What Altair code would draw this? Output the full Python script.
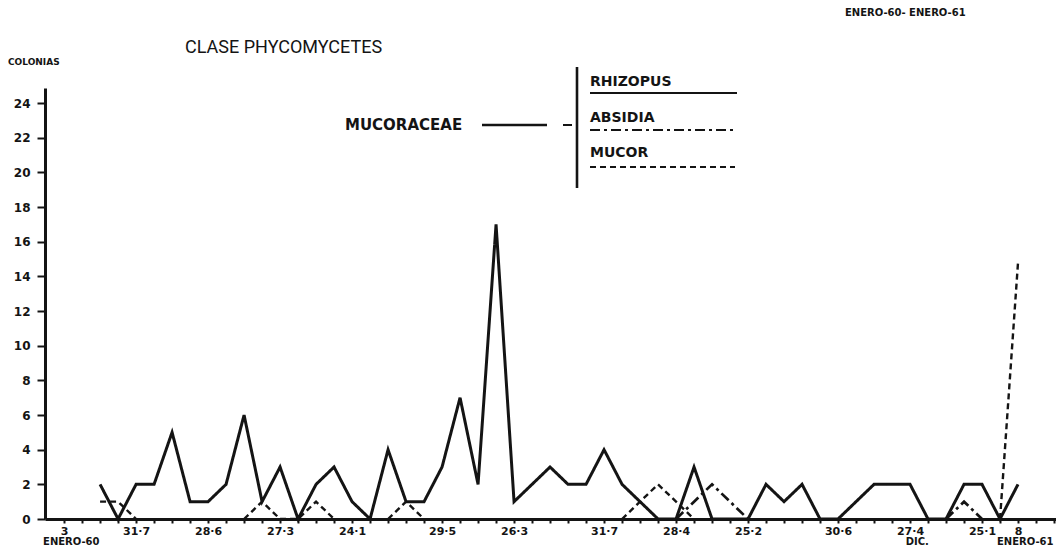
import altair as alt
import pandas as pd

# ---- data (sample index -> colonias) ----
sample_idx = list(range(52))
rhizopus = [2, 0, 2, 2, 5, 1, 1, 2, 6, 1, 3, 0, 2, 3, 1, 0, 4, 1, 1, 3,
            7, 2, 17, 1, 2, 3, 2, 2, 4, 2, 1, 0, 0, 3, 0, 0, 0, 2, 1, 2,
            0, 0, 1, 2, 2, 2, 0, 0, 2, 2, 0, 2]
absidia = [None] * 32 + [0, 1, 2, 1, 0] + [None] * 10 + [0, 1, 0, None, None]
mucor = ([1, 1, 0] + [None] * 5 + [0, 1, 0, 0, 1, 0] + [None] * 2 + [0, 1, 0]
         + [None] * 10 + [0, 1, 2, 1, 0] + [None] * 16 + [0, 14.8])

series_names = ["RHIZOPUS", "ABSIDIA", "MUCOR"]

tick_pos = [-2, 2, 6, 10, 14, 19, 23, 28, 32, 36, 41, 45, 49, 51]
tick_txt = ["3", "31·7", "28·6", "27·3", "24·1", "29·5", "26·3", "31·7",
            "28·4", "25·2", "30·6", "27·4", "25·1", "8"]
extra_pos = [-1.6, 45.4, 51.4]
extra_txt = ["ENERO-60", "DIC.", "ENERO-61"]
y_ticks = list(range(0, 25, 2))


def to_rows(name, vals):
    rows, seg = [], 0
    for i, v in zip(sample_idx, vals):
        if v is None:
            seg += 1
            continue
        rows.append({"i": i, "v": v, "serie": name, "seg": f"{name}-{seg}"})
    return rows


df = pd.DataFrame(to_rows("RHIZOPUS", rhizopus) + to_rows("ABSIDIA", absidia)
                  + to_rows("MUCOR", mucor))
extra_df = pd.DataFrame({"i": extra_pos, "t": extra_txt})

W, H = 1011, 431
INK = "#141414"
xs = alt.Scale(domain=[-3.06, 53.11], nice=False, zero=False)
ys = alt.Scale(domain=[0, 24.87], nice=False)

x_tick_values = list(range(-2, 54))
label_expr = ("[" + ",".join(f"'{t}'" for t in tick_txt) + "][indexof(["
              + ",".join(str(p) for p in tick_pos) + "], datum.value)] || ''")

lines = alt.Chart(df).mark_line(color=INK, strokeJoin="miter", strokeCap="butt").encode(
    x=alt.X("i:Q", scale=xs, axis=alt.Axis(
        values=x_tick_values, tickCount=len(x_tick_values) + 5,
        labelExpr=label_expr, title=None, grid=False,
        tickSize=4, tickWidth=2, tickColor=INK, domainColor=INK, domainWidth=3,
        labelFont="DejaVu Sans", labelFontWeight="bold", labelFontSize=11,
        labelColor=INK, labelPadding=2, labelFlush=False, labelOverlap=False)),
    y=alt.Y("v:Q", scale=ys, axis=alt.Axis(
        values=y_ticks, tickCount=len(y_ticks) + 2, title=None, grid=False,
        tickSize=8, tickWidth=2,
        tickColor=INK, domainColor=INK, domainWidth=3,
        labelFont="DejaVu Sans", labelFontWeight="bold", labelFontSize=12,
        labelColor=INK, labelPadding=7)),
    detail="seg:N",
    order="i:Q",
    strokeDash=alt.StrokeDash("serie:N", scale=alt.Scale(
        domain=series_names, range=[[1, 0], [10, 4, 3, 4], [6, 4]]), legend=None),
    strokeWidth=alt.StrokeWidth("serie:N", scale=alt.Scale(
        domain=series_names, range=[3, 2.4, 2.4]), legend=None),
)

extra = alt.Chart(extra_df).mark_text(
    font="DejaVu Sans", fontWeight="bold", fontSize=10, color=INK,
    align="center", baseline="middle").encode(
    x=alt.X("i:Q", scale=xs), y=alt.value(H + 23), text="t:N")

def txt(s, x, y, size=10, weight="bold", align="left", font="DejaVu Sans"):
    return alt.Chart(pd.DataFrame({"t": [s]})).mark_text(
        font=font, fontWeight=weight, fontSize=size, color=INK,
        align=align, baseline="middle").encode(
        x=alt.value(x), y=alt.value(y), text="t:N")

def rule(x1, x2, y1, y2, dash=None, w=2.4):
    kw = {"color": INK, "strokeWidth": w}
    if dash:
        kw["strokeDash"] = dash
    return alt.Chart(pd.DataFrame({"a": [0]})).mark_rule(**kw).encode(
        x=alt.value(x1), x2=alt.value(x2), y=alt.value(y1), y2=alt.value(y2))

decor = [
    txt("CLASE PHYCOMYCETES", 140, -40, size=18, weight="normal", font="Roboto"),
    txt("COLONIAS", -37, -26, size=9),
    txt("ENERO-60- ENERO-61", 800, -75, size=10),
    txt("MUCORACEAE", 300, 37, size=15),
    rule(437, 502, 37, 37, w=2.6),
    rule(518, 527, 37, 37, w=2),
    rule(532, 532, -21, 100, w=2.6),
    txt("RHIZOPUS", 545, -6, size=14),
    rule(545, 692, 5, 5, w=1.8),
    txt("ABSIDIA", 545, 30, size=14),
    rule(545, 692, 42, 42, dash=[10, 4, 3, 4], w=1.8),
    txt("MUCOR", 545, 65, size=14),
    rule(545, 690, 79, 79, dash=[6, 4], w=1.8),
]

chart = alt.layer(lines, extra, *decor).properties(
    width=W, height=H,
    background="white",
    autosize=alt.AutoSizeParams(type="none"),
    padding={"left": 37, "top": 80, "right": 0, "bottom": 29},
).configure_view(stroke=None)

chart.save("out.html", embed_options={"renderer": "svg", "actions": False})
